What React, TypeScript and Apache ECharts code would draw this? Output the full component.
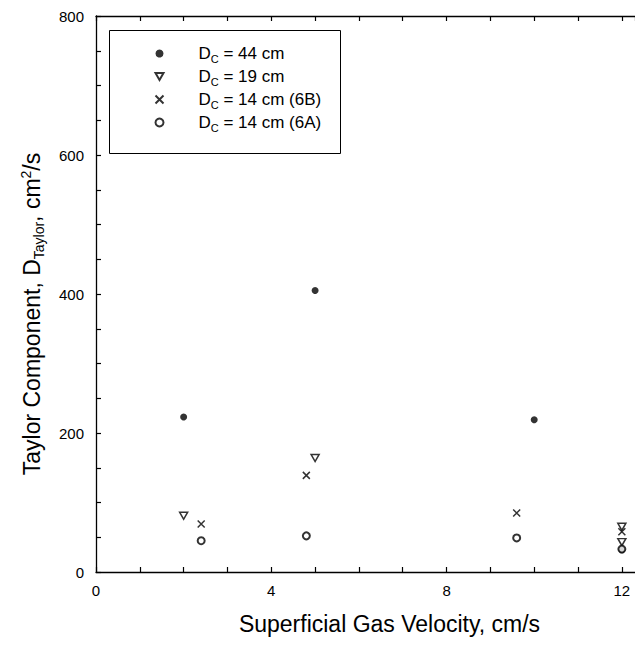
import React, { useEffect, useRef } from "react";
import * as echarts from "echarts";

const seriesLabels = ["44 cm", "19 cm", "14 cm (6B)", "14 cm (6A)"];
const dc44: number[][] = [[2, 223], [5, 405], [10, 219], [12, 32]];
const dc19: number[][] = [[2, 81], [5, 164], [12, 65], [12, 43]];
const dc14b: number[][] = [[2.4, 69], [4.8, 139], [9.6, 85], [12, 58]];
const dc14a: number[][] = [[2.4, 45], [4.8, 52], [9.6, 49], [12, 33]];
const xTicks = [0, 4, 8, 12];
const yTicks = [0, 200, 400, 600, 800];

const FONT = "'Liberation Sans', Arial, Helvetica, sans-serif";
const TRI = "path://M0,0L10,0L5,8.66Z";
const CROSS = "path://M0,0L10,10M10,0L0,10";

export default function App() {
  const ref = useRef<HTMLDivElement>(null);
  useEffect(() => {
    if (!ref.current) return;
    const chart = echarts.init(ref.current, null, { renderer: "svg" });
    const axisCommon = {
      axisLine: { show: true, onZero: false, lineStyle: { color: "#000", width: 1.3 } },
      axisTick: { show: true, inside: true, length: 5, lineStyle: { color: "#000", width: 1.2 } },
      splitLine: { show: false },
    };
    chart.setOption({
      animation: false,
      backgroundColor: "#fff",
      textStyle: { fontFamily: FONT },
      grid: { left: 96, right: 0, top: 16, bottom: 78, containLabel: false },
      legend: {
        orient: "vertical",
        left: 148,
        top: 38,
        itemWidth: 8,
        itemHeight: 8,
        itemGap: 2,
        data: seriesLabels,
        formatter: (n: string) => `{d|D}{s|C}{d| = ${n}}`,
        textStyle: {
          color: "#000",
          padding: [0, 0, 0, 30],
          rich: {
            d: { fontSize: 17, fontFamily: FONT, color: "#000", lineHeight: 20 },
            s: { fontSize: 11, fontFamily: FONT, color: "#000", lineHeight: 20, padding: [10, 0, 0, 0] },
          },
        },
      },
      xAxis: [
        {
          type: "value",
          min: 0,
          max: 12.3,
          interval: 1,
          position: "bottom",
          ...axisCommon,
          axisLabel: {
            margin: 11,
            fontSize: 15,
            color: "#000",
            fontFamily: FONT,
            showMaxLabel: false,
            formatter: (v: number) => (xTicks.includes(v) ? String(v) : ""),
          },
          name: "Superficial Gas Velocity, cm/s",
          nameLocation: "middle",
          nameGap: 40,
          nameTextStyle: { fontSize: 23, color: "#000", fontFamily: FONT, padding: [0, 0, 0, 48] },
        },
        {
          type: "value",
          min: 0,
          max: 12.3,
          interval: 1,
          position: "top",
          ...axisCommon,
          axisLabel: { show: false },
        },
      ],
      yAxis: {
        type: "value",
        min: 0,
        max: 800,
        interval: 50,
        ...axisCommon,
        axisLabel: {
          margin: 12,
          fontSize: 15,
          color: "#000",
          fontFamily: FONT,
          formatter: (v: number) => (yTicks.includes(v) ? String(v) : ""),
        },
        name: "{t|Taylor Component, D}{s|Taylor}{t|, cm}{p|2}{t|/s}",
        nameLocation: "middle",
        nameRotate: 90,
        nameGap: 50,
        nameTextStyle: {
          padding: [0, 0, 0, -40],
          rich: {
            t: { fontSize: 23, fontFamily: FONT, color: "#000", lineHeight: 28 },
            s: { fontSize: 14, fontFamily: FONT, color: "#000", lineHeight: 28, padding: [14, 0, 0, 0] },
            p: { fontSize: 14, fontFamily: FONT, color: "#000", lineHeight: 28, padding: [0, 0, 12, 0] },
          },
        },
      },
      graphic: [
        {
          type: "rect",
          left: 107,
          top: 28,
          shape: { width: 231, height: 123 },
          style: { fill: "none", stroke: "#000", lineWidth: 1 },
          z: 1,
        },
      ],
      series: [
        {
          name: seriesLabels[0],
          type: "scatter",
          data: dc44,
          symbol: "circle",
          symbolSize: 7,
          itemStyle: { color: "#000" },
        },
        {
          name: seriesLabels[1],
          type: "scatter",
          data: dc19,
          symbol: TRI,
          symbolSize: [8, 7],
          itemStyle: { color: "#fff", borderColor: "#000", borderWidth: 1.5 },
        },
        {
          name: seriesLabels[2],
          type: "scatter",
          data: dc14b,
          symbol: CROSS,
          symbolSize: 7,
          itemStyle: { color: "none", borderColor: "#000", borderWidth: 1.5 },
        },
        {
          name: seriesLabels[3],
          type: "scatter",
          data: dc14a,
          symbol: "emptyCircle",
          symbolSize: 7,
          itemStyle: { color: "#000", borderColor: "#000", borderWidth: 1.5 },
        },
      ],
    });
    return () => chart.dispose();
  }, []);
  return (
    <div
      ref={ref}
      style={{ position: "fixed", left: 0, top: 0, width: 635, height: 650, background: "#fff" }}
    />
  );
}
